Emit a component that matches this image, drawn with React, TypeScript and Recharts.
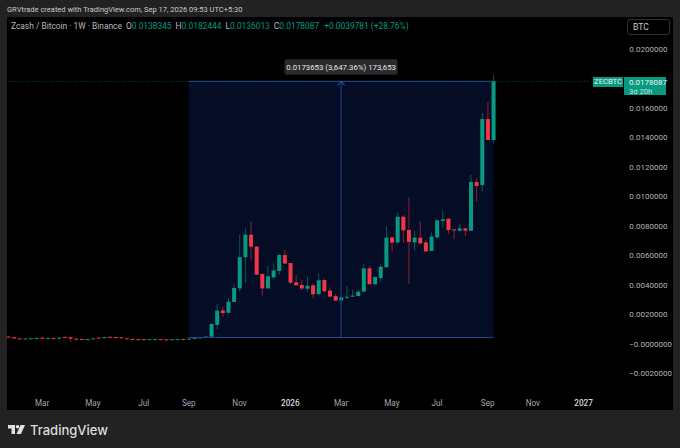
import React from "react";
import { ComposedChart, Bar, XAxis, YAxis, ReferenceArea, ReferenceLine, ReferenceDot } from "recharts";

// Weekly candles, prices in BTC
const opens = [
  0.0005, 0.00046, 0.00038, 0.00034, 0.00037, 0.00038, 0.00043, 0.00038, 0.0004, 0.00036,
  0.00048, 0.00046, 0.00036, 0.00034, 0.00031, 0.00033, 0.00043, 0.0004, 0.00049, 0.00047,
  0.00046, 0.00039, 0.00035, 0.00033, 0.00033, 0.0003, 0.00031, 0.00033, 0.00031, 0.00028,
  0.00029, 0.00034, 0.00031, 0.00037, 0.00042, 0.00045, 0.0005, 0.00129, 0.00228, 0.00212,
  0.00285, 0.00377, 0.00588, 0.00741, 0.0066, 0.00475, 0.00377, 0.00452, 0.00495, 0.00603,
  0.00549, 0.00418, 0.004, 0.00375, 0.00398, 0.00337, 0.00434, 0.00362, 0.00325, 0.00296,
  0.00314, 0.00321, 0.00325, 0.00355, 0.00513, 0.00405, 0.00447, 0.0052, 0.00723, 0.00689,
  0.00863, 0.00773, 0.00689, 0.00721, 0.00689, 0.00631, 0.00723, 0.00834, 0.0085, 0.00777,
  0.00768, 0.00784, 0.00768, 0.01098, 0.01078, 0.01525, 0.0138345,
];
const highs = [
  0.00052, 0.00047, 0.0004, 0.00038, 0.00041, 0.00043, 0.00046, 0.00042, 0.00042, 0.00045,
  0.0005, 0.00048, 0.00038, 0.00035, 0.00035, 0.0004, 0.00045, 0.00048, 0.00051, 0.00048,
  0.00048, 0.0004, 0.00036, 0.00035, 0.00034, 0.00034, 0.00035, 0.00034, 0.00032, 0.00033,
  0.00034, 0.00036, 0.00038, 0.00043, 0.00046, 0.00055, 0.0014, 0.00271, 0.00249, 0.00316,
  0.00411, 0.00741, 0.00784, 0.00829, 0.00664, 0.00475, 0.00529, 0.00547, 0.00615, 0.00637,
  0.00549, 0.00468, 0.00434, 0.00456, 0.00412, 0.00479, 0.00445, 0.00384, 0.00339, 0.00322,
  0.00393, 0.00366, 0.00366, 0.00542, 0.00531, 0.00454, 0.00542, 0.008, 0.00728, 0.00895,
  0.00875, 0.00994, 0.00768, 0.00832, 0.00705, 0.00755, 0.00845, 0.00904, 0.0085, 0.00777,
  0.00811, 0.00784, 0.01146, 0.01121, 0.01568, 0.01643, 0.0182444,
];
const lows = [
  0.00044, 0.00036, 0.00032, 0.00033, 0.00036, 0.00037, 0.00036, 0.00037, 0.00034, 0.00035,
  0.00042, 0.00015, 0.0003, 0.00029, 0.0003, 0.00032, 0.00037, 0.00039, 0.00044, 0.00043,
  0.00037, 0.00033, 0.00031, 0.0003, 0.00028, 0.00029, 0.0003, 0.00027, 0.00026, 0.00027,
  0.00028, 0.0003, 0.0003, 0.00036, 0.00041, 0.00044, 0.00045, 0.00099, 0.00181, 0.00212,
  0.00285, 0.00355, 0.00416, 0.00565, 0.00468, 0.00328, 0.00377, 0.00438, 0.00468, 0.00545,
  0.00407, 0.00396, 0.00366, 0.00355, 0.0031, 0.00337, 0.00352, 0.00316, 0.00292, 0.00294,
  0.00305, 0.00319, 0.00323, 0.00355, 0.00405, 0.00405, 0.00423, 0.0052, 0.00624, 0.00678,
  0.00687, 0.00407, 0.00633, 0.00678, 0.00626, 0.00631, 0.0071, 0.00791, 0.00746, 0.0071,
  0.00762, 0.00732, 0.00768, 0.00965, 0.01033, 0.01383, 0.0136013,
];
const closes = [
  0.00046, 0.00038, 0.00034, 0.00037, 0.00039, 0.00041, 0.00038, 0.0004, 0.00035, 0.00043,
  0.00044, 0.00036, 0.00033, 0.00031, 0.00033, 0.00038, 0.00038, 0.00046, 0.00046, 0.00044,
  0.00039, 0.00035, 0.00032, 0.00031, 0.0003, 0.00033, 0.00033, 0.00029, 0.00028, 0.00032,
  0.00033, 0.00031, 0.00037, 0.00042, 0.00045, 0.0005, 0.00136, 0.00226, 0.0021, 0.00287,
  0.0038, 0.00588, 0.00741, 0.0066, 0.0047, 0.00377, 0.00459, 0.00499, 0.00603, 0.00545,
  0.00416, 0.00398, 0.00377, 0.00395, 0.00337, 0.00432, 0.00357, 0.00321, 0.00294, 0.00316,
  0.00321, 0.00328, 0.00355, 0.00513, 0.00405, 0.00454, 0.00524, 0.00721, 0.00687, 0.00863,
  0.00771, 0.00692, 0.00721, 0.00682, 0.00628, 0.00728, 0.00838, 0.00845, 0.00773, 0.00771,
  0.00784, 0.00768, 0.01098, 0.01071, 0.01525, 0.01383, 0.0178087,
];
const futureWeeks = 22;

const monthTickWeeks = [6, 15, 24, 32, 41, 50, 59, 68, 76, 85, 93, 102];
const monthTickLabels = ["Mar", "May", "Jul", "Sep", "Nov", "2026", "Mar", "May", "Jul", "Sep", "Nov", "2027"];
const yearTicks = ["2026", "2027"];
const priceTicks = [-0.002, 0, 0.002, 0.004, 0.006, 0.008, 0.01, 0.012, 0.014, 0.016, 0.02];

const measureStartWeek = 32;
const measureEndWeek = 86;
const measureMidWeek = 59;
const measureLow = 0.0004434;
const measureHigh = 0.0178087;
const measureLabel = "0.0173653 (3,647.36%) 173,653";
const lastPriceLabel = "0.0178087";

const TEAL = "#089981";
const RED = "#f23645";
const BLUE = "#24488f";
const FONT = "Roboto, sans-serif";

const rows = [...opens, ...new Array(futureWeeks).fill(null)].map((o, i) => ({
  week: i,
  open: o,
  close: o === null ? null : closes[i],
  range: o === null ? null : [lows[i], highs[i]],
}));

function Candle(props: any) {
  const { x, y, width, height, payload } = props;
  if (!payload || payload.open === null || payload.open === undefined) return null;
  const [low, high] = payload.range;
  const perUnit = height / (high - low);
  const up = payload.close >= payload.open;
  const color = up ? TEAL : RED;
  const top = y + (high - Math.max(payload.open, payload.close)) * perUnit;
  const bottom = y + (high - Math.min(payload.open, payload.close)) * perUnit;
  const cx = x + width / 2;
  return (
    <g>
      <line x1={cx} x2={cx} y1={y} y2={y + height} stroke={color} strokeWidth={1} opacity={0.55} />
      <rect x={x} y={top} width={width} height={Math.max(bottom - top, 1)} fill={color} />
    </g>
  );
}

// The measure box runs from the centre of its first candle to the centre of its last one.
function MeasureBox(props: any) {
  const { x, y, width, height } = props;
  const weeksCovered = measureEndWeek - measureStartWeek + 1;
  const halfBand = width / weeksCovered / 2;
  return <rect x={x + halfBand} y={y} width={width - 2 * halfBand} height={height} fill="#050c25" />;
}

function TimeTick(props: any) {
  const { x, y, payload } = props;
  const label = monthTickLabels[monthTickWeeks.indexOf(payload.value)];
  const isYear = yearTicks.includes(label);
  return (
    <text x={x} y={y} dy={9} textAnchor="middle" fontSize={8.2} fontFamily={FONT}
      fill={isYear ? "#d1d4dc" : "#a3a6af"} fontWeight={isYear ? 500 : 400}>
      {label}
    </text>
  );
}

function MeasureMarker(props: any) {
  const { cx, cy } = props;
  return (
    <g>
      <path d={`M${cx - 3.5} ${cy + 4}L${cx} ${cy}L${cx + 3.5} ${cy + 4}`} fill="none" stroke="#3a66c0" strokeWidth={1} />
      <rect x={cx - 56.5} y={cy - 22} width={113} height={15.5} rx={2} fill="#2a2a2c" />
      <text x={cx} y={cy - 11.2} textAnchor="middle" fontSize={7.8} fontFamily={FONT} fill="#e6e6e8">
        {measureLabel}
      </text>
    </g>
  );
}

const abs = (left: number, top: number, extra: React.CSSProperties = {}): React.CSSProperties => ({
  position: "absolute", left, top, fontFamily: FONT, whiteSpace: "nowrap", ...extra,
});

export default function App() {
  return (
    <div style={{ position: "fixed", left: 0, top: 0, width: 680, height: 448, background: "#222222", overflow: "hidden" }}>
      <div style={abs(7, 4, { fontSize: 7.5, lineHeight: "11px", color: "#c9c9c9" })}>
        GRVtrade created with TradingView.com, Sep 17, 2026 09:53 UTC+5:30
      </div>
      <div style={{ position: "absolute", left: 7, top: 17, width: 666, height: 393, background: "#000" }} />
      <div style={{ position: "absolute", left: 0, top: 0 }}>
        <ComposedChart
          width={680}
          height={448}
          data={rows}
          margin={{ top: 17, right: 7, bottom: 38, left: 5.5 }}
          barSize={4}
        >
          <XAxis
            dataKey="week"
            type="category"
            ticks={monthTickWeeks}
            interval={0}
            height={18}
            axisLine={false}
            tickLine={false}
            tickSize={0}
            tick={<TimeTick />}
            tickMargin={5}
          />
          <YAxis
            orientation="right"
            width={52.7}
            domain={[-0.003254, 0.02217]}
            allowDataOverflow
            ticks={priceTicks}
            interval={0}
            axisLine={false}
            tickLine={false}
            tickSize={0}
            tickMargin={9}
            tick={{ fontSize: 8, fontFamily: FONT, fill: "#b2b5be" }}
            tickFormatter={(v: number) => (v === 0 ? "−0.0000000" : v < 0 ? "−" + Math.abs(v).toFixed(7) : v.toFixed(7))}
          />
          <ReferenceArea
            x1={measureStartWeek}
            x2={measureEndWeek}
            y1={measureLow}
            y2={measureHigh}
            shape={<MeasureBox />}
          />
          <ReferenceLine
            segment={[{ x: 0, y: measureHigh }, { x: 103, y: measureHigh }]}
            stroke={TEAL}
            strokeOpacity={0.6}
            strokeDasharray="1 2"
          />
          <ReferenceLine
            segment={[{ x: measureStartWeek, y: measureHigh }, { x: measureEndWeek, y: measureHigh }]}
            stroke={BLUE}
          />
          <ReferenceLine
            segment={[{ x: measureStartWeek, y: measureLow }, { x: measureEndWeek, y: measureLow }]}
            stroke={BLUE}
          />
          <ReferenceLine
            segment={[{ x: measureMidWeek, y: measureLow }, { x: measureMidWeek, y: measureHigh }]}
            stroke={BLUE}
          />
          <Bar dataKey="range" shape={<Candle />} isAnimationActive={false} />
          <ReferenceDot x={measureMidWeek} y={measureHigh} r={0} shape={<MeasureMarker />} />
        </ComposedChart>
      </div>
      <div style={abs(11, 21, { fontSize: 8.4, lineHeight: "11px", color: "#b7b9bf" })}>
        Zcash / Bitcoin · 1W · Binance
        <span style={{ marginLeft: 4 }}>O</span><span style={{ color: TEAL }}>0.0138345</span>
        <span style={{ marginLeft: 4 }}>H</span><span style={{ color: TEAL }}>0.0182444</span>
        <span style={{ marginLeft: 4 }}>L</span><span style={{ color: TEAL }}>0.0136013</span>
        <span style={{ marginLeft: 4 }}>C</span><span style={{ color: TEAL }}>0.0178087</span>
        <span style={{ marginLeft: 5, color: TEAL }}>+0.0039781 (+28.76%)</span>
      </div>
      <div style={abs(627, 19, { width: 43, height: 16, boxSizing: "border-box", border: "1px solid #333", borderRadius: 3, fontSize: 8.5, lineHeight: "14px", color: "#c9c9c9", paddingLeft: 5 })}>
        BTC
      </div>
      <div style={abs(593, 77, { width: 30, height: 10, background: TEAL, fontSize: 7.6, lineHeight: "10px", color: "#e8f5f2", textAlign: "center" })}>
        ZECBTC
      </div>
      <div style={abs(624, 77, { width: 42, height: 18, background: TEAL, fontSize: 8, lineHeight: "9px", color: "#e8f5f2", paddingLeft: 5, boxSizing: "border-box", paddingTop: 1 })}>
        {lastPriceLabel}
        <br />
        <span style={{ fontSize: 7.6, color: "#bfe6de" }}>3d 20h</span>
      </div>
      <svg style={{ position: "absolute", left: 8, top: 424 }} width={18} height={11} viewBox="0 0 36 22">
        <path d="M0 2H14V20H7V9H0Z" fill="#e0e0e0" />
        <circle cx="19" cy="5.5" r="3.5" fill="#e0e0e0" />
        <path d="M25 2H34L26 20H17Z" fill="#e0e0e0" />
      </svg>
      <div style={abs(30, 421, { fontSize: 13, lineHeight: "18px", fontWeight: 500, color: "#dcdcdc", fontFamily: "Inter, sans-serif" })}>
        TradingView
      </div>
    </div>
  );
}
